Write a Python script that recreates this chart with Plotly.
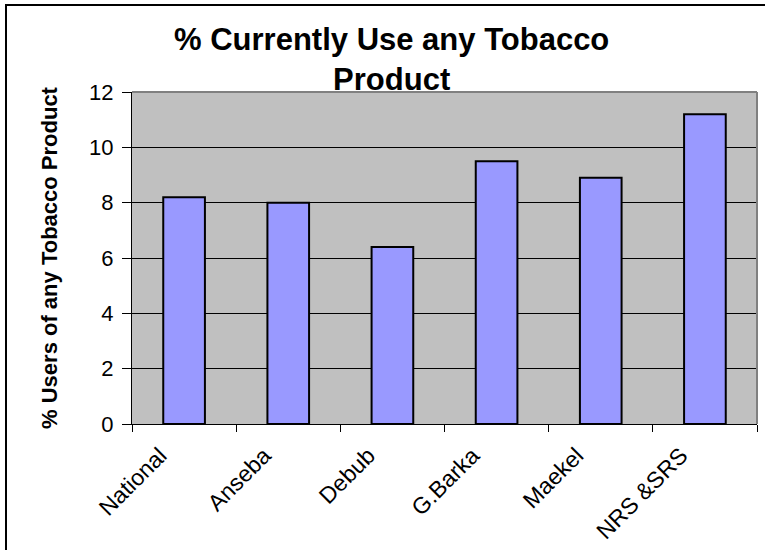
import plotly.graph_objects as go

# Share of people currently using any tobacco product, by region
regions = ["National", "Anseba", "Debub", "G.Barka", "Maekel", "NRS &SRS"]
pct_users = [8.2, 8.0, 6.4, 9.5, 8.9, 11.2]
y_ticks = [0, 2, 4, 6, 8, 10, 12]

FONT = "Liberation Sans, Arial, sans-serif"
W, H = 765, 550
M_L, M_R, M_T, M_B = 132, 8, 92, 126

fig = go.Figure(
    go.Bar(
        x=regions,
        y=pct_users,
        marker=dict(color="#9999FF", line=dict(color="black", width=2)),
        hoverinfo="x+y",
    )
)

fig.update_layout(
    width=W,
    height=H,
    margin=dict(l=M_L, r=M_R, t=M_T, b=M_B),
    paper_bgcolor="white",
    plot_bgcolor="#C0C0C0",
    bargap=0.6,
    showlegend=False,
    font=dict(family=FONT, color="black"),
    title=dict(
        text="<b>% Currently Use any Tobacco<br>Product</b>",
        x=0.512,
        xanchor="center",
        y=1 - 50 / H,
        yanchor="middle",
        font=dict(family=FONT, size=31, color="black"),
    ),
    xaxis=dict(
        type="category",
        tickangle=-45,
        tickson="boundaries",
        ticks="outside",
        ticklen=7,
        tickcolor="black",
        showline=True,
        linecolor="black",
        linewidth=1,
        showgrid=False,
        automargin=False,
        ticklabelshift=-24,
        ticklabelstandoff=8,
        tickfont=dict(family=FONT, size=23, color="black"),
    ),
    yaxis=dict(
        range=[0, 12],
        tickvals=y_ticks,
        ticks="outside",
        ticklen=9,
        tickcolor="black",
        showline=True,
        linecolor="black",
        linewidth=1,
        showgrid=True,
        gridcolor="black",
        gridwidth=1,
        zeroline=False,
        automargin=False,
        tickfont=dict(family=FONT, size=22, color="black"),
        ticklabelstandoff=4,
        title=dict(
            text="<b>% Users of any Tobacco Product</b>",
            font=dict(family=FONT, size=22, color="black"),
            standoff=25,
        ),
    ),
    shapes=[
        # gray frame on the top and right of the plotting area
        dict(type="line", xref="paper", yref="paper", x0=0, x1=1, y0=1, y1=1,
             line=dict(color="#808080", width=2), layer="above"),
        dict(type="line", xref="paper", yref="paper", x0=1, x1=1, y0=0, y1=1,
             line=dict(color="#808080", width=2), layer="above"),
        # outer chart border
        dict(type="rect", xref="paper", yref="paper",
             x0=(6 - M_L) / (W - M_L - M_R), x1=(W + 20 - M_L) / (W - M_L - M_R),
             y0=-(M_B + 20) / (H - M_T - M_B), y1=(H - M_B - 5) / (H - M_T - M_B),
             line=dict(color="black", width=2), layer="above"),
    ],
)

fig.write_html("out.html")
